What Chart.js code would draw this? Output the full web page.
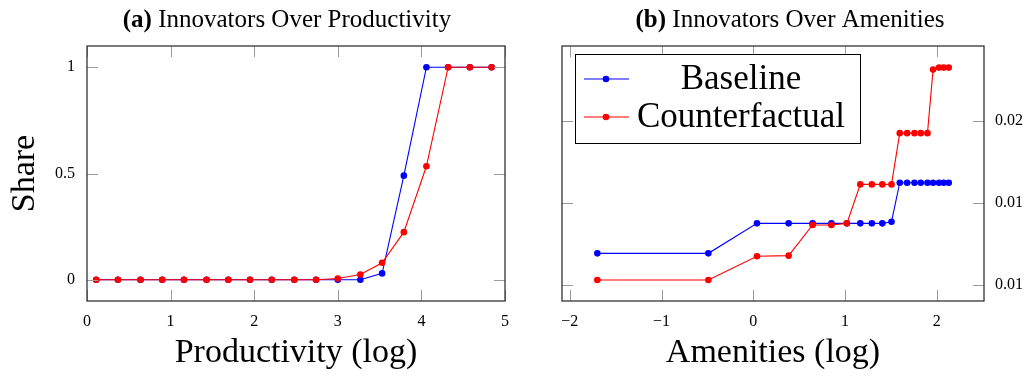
<!DOCTYPE html>
<html lang="en">
<head>
<meta charset="UTF-8">
<title>Innovators</title>
<script src="https://cdn.jsdelivr.net/npm/chart.js"></script>
<style>
  body { margin: 0; background: #fff; }
  #wrap { position: relative; width: 1025px; height: 383px; }
  canvas { position: absolute; top: 0; }
</style>
</head>
<body>
<div id="wrap">
  <canvas id="prod" width="520" height="383" style="left:0"></canvas>
  <canvas id="amen" width="505" height="383" style="left:520px"></canvas>
</div>

<script>
// ---- panel (a): share of innovators over productivity
const prodX = [0.11, 0.37, 0.64, 0.90, 1.16, 1.43, 1.69, 1.95, 2.21, 2.48,
               2.74, 3.00, 3.27, 3.53, 3.79, 4.06, 4.32, 4.58, 4.84];
const prodBaseline = [0, 0, 0, 0, 0, 0, 0, 0, 0, 0,
                      0, 0, 0, 0.03, 0.49, 1, 1, 1, 1];
const prodCounter = [0, 0, 0, 0, 0, 0, 0, 0, 0, 0,
                     0, 0.006, 0.025, 0.08, 0.224, 0.534, 1, 1, 1];
const prodXTicks = [0, 1, 2, 3, 4, 5];
const prodYTicks = [0, 0.5, 1];

// ---- panel (b): innovators over amenities
const amenX = [-1.70, -0.49, 0.04, 0.385, 0.646, 0.851, 1.02, 1.166, 1.292, 1.406,
               1.506, 1.596, 1.676, 1.756, 1.825, 1.898, 1.959, 2.024, 2.075, 2.13];
const amenBaseline = [0.00693, 0.00693, 0.00876, 0.00876, 0.00876, 0.00876, 0.00876, 0.00876, 0.00876, 0.00876,
                      0.00886, 0.01124, 0.01124, 0.01124, 0.01124, 0.01124, 0.01124, 0.01124, 0.01124, 0.01124];
const amenCounter = [0.0053, 0.0053, 0.00675, 0.00679, 0.00866, 0.00866, 0.00876, 0.01114, 0.01114, 0.01114,
                     0.01114, 0.01427, 0.01427, 0.01427, 0.01427, 0.01427, 0.01815, 0.01827, 0.01827, 0.01827];
const amenXTicks = [-2, -1, 0, 1, 2];
const amenYTicks = [0.005, 0.01, 0.015];
const amenYLabels = ['0.01', '0.01', '0.02'];

const SERIF = '"Liberation Serif", "Times New Roman", serif';
const TICK = 11;
const BLUE = '#0000ff', RED = '#ff0000';
const TITLE_PX = 25;

// box, inward tick marks, panel title and (optionally) boxed legend
const deco = {
  id: 'deco',
  afterDraw(chart, args, o) {
    const { ctx, chartArea: a } = chart;
    const xs = chart.scales.x, ys = chart.scales.y;
    ctx.save();
    ctx.strokeStyle = '#9a9a9a';
    ctx.lineWidth = 1;
    ctx.beginPath();
    xs.ticks.forEach(t => {
      const px = Math.round(xs.getPixelForValue(t.value)) + 0.5;
      ctx.moveTo(px, a.bottom); ctx.lineTo(px, a.bottom - TICK);
      ctx.moveTo(px, a.top); ctx.lineTo(px, a.top + TICK);
    });
    ys.ticks.forEach(t => {
      const py = Math.round(ys.getPixelForValue(t.value)) + 0.5;
      ctx.moveTo(a.left, py); ctx.lineTo(a.left + TICK, py);
      ctx.moveTo(a.right, py); ctx.lineTo(a.right - TICK, py);
    });
    ctx.stroke();
    ctx.strokeStyle = '#333';
    ctx.lineWidth = 1.3;
    ctx.strokeRect(a.left, a.top, a.right - a.left, a.bottom - a.top);

    // title: bold tag + plain text
    ctx.fillStyle = '#000';
    ctx.textBaseline = 'alphabetic';
    ctx.textAlign = 'left';
    ctx.font = 'bold ' + TITLE_PX + 'px ' + SERIF;
    const wb = ctx.measureText(o.tag).width;
    ctx.font = TITLE_PX + 'px ' + SERIF;
    const wt = ctx.measureText(' ' + o.title).width;
    let x0 = o.cx - (wb + wt) / 2;
    ctx.font = 'bold ' + TITLE_PX + 'px ' + SERIF;
    ctx.fillText(o.tag, x0, 27);
    ctx.font = TITLE_PX + 'px ' + SERIF;
    ctx.fillText(' ' + o.title, x0 + wb, 27);

    if (o.legend) {
      const lx = a.left + 13, ly = a.top + 8, lw = 285, lh = 89;
      ctx.fillStyle = '#fff';
      ctx.fillRect(lx, ly, lw, lh);
      ctx.strokeStyle = '#000';
      ctx.lineWidth = 1;
      ctx.strokeRect(lx + 0.5, ly + 0.5, lw, lh);
      chart.data.datasets.forEach((ds, i) => {
        const cy = ly + 25 + 38 * i;
        ctx.strokeStyle = ds.borderColor;
        ctx.lineWidth = 1.1;
        ctx.beginPath();
        ctx.moveTo(lx + 9, cy); ctx.lineTo(lx + 54, cy);
        ctx.stroke();
        ctx.fillStyle = ds.borderColor;
        ctx.beginPath();
        ctx.arc(lx + 31, cy, 3.3, 0, Math.PI * 2);
        ctx.fill();
        ctx.fillStyle = '#000';
        ctx.font = '35px ' + SERIF;
        ctx.textAlign = 'center';
        ctx.textBaseline = 'middle';
        ctx.fillText(ds.label, lx + 166, cy + 1);
      });
    }
    ctx.restore();
  }
};

function series(label, xs, ys, color, order) {
  return {
    label: label,
    data: xs.map((x, i) => ({ x: x, y: ys[i] })),
    borderColor: color,
    backgroundColor: color,
    borderWidth: 1.1,
    pointRadius: 3.3,
    pointBorderWidth: 0,
    pointHoverRadius: 3.3,
    tension: 0,
    order: order
  };
}

const tickFont = { family: SERIF, size: 16 };
const titleFont = { family: SERIF, size: 34 };
const fixTicks = arr => s => { s.ticks = arr.map(v => ({ value: v })); };

new Chart(document.getElementById('prod'), {
  type: 'line',
  data: {
    datasets: [
      series('Baseline', prodX, prodBaseline, BLUE, 1),
      series('Counterfactual', prodX, prodCounter, RED, 0)
    ]
  },
  options: {
    responsive: false,
    animation: false,
    events: [],
    layout: { padding: { left: 0, right: 11, top: 46, bottom: 0 } },
    plugins: {
      legend: { display: false },
      tooltip: { enabled: false },
      deco: { tag: '(a)', title: 'Innovators Over Productivity', cx: 287 }
    },
    scales: {
      x: {
        type: 'linear', min: 0, max: 5,
        afterBuildTicks: fixTicks(prodXTicks),
        grid: { display: false, drawTicks: false },
        border: { display: false },
        ticks: { font: tickFont, color: '#000', padding: 11, maxRotation: 0, autoSkip: false, callback: v => String(v) },
        title: { display: true, text: 'Productivity (log)', font: titleFont, color: '#000', padding: { top: 0, bottom: 10 } },
        afterFit: s => { s.height = 82; }
      },
      y: {
        type: 'linear', min: -0.1, max: 1.1,
        afterBuildTicks: fixTicks(prodYTicks),
        grid: { display: false, drawTicks: false },
        border: { display: false },
        ticks: { font: tickFont, color: '#000', padding: 12, autoSkip: false, callback: v => String(v) },
        title: { display: true, text: 'Share', font: titleFont, color: '#000', padding: { top: 5, bottom: 0 } },
        afterFit: s => { s.width = 87; }
      }
    }
  },
  plugins: [deco]
});

new Chart(document.getElementById('amen'), {
  type: 'line',
  data: {
    datasets: [
      series('Baseline', amenX, amenBaseline, BLUE, 1),
      series('Counterfactual', amenX, amenCounter, RED, 0)
    ]
  },
  options: {
    responsive: false,
    animation: false,
    events: [],
    layout: { padding: { left: 42, right: 0, top: 46, bottom: 0 } },
    plugins: {
      legend: { display: false },
      tooltip: { enabled: false },
      deco: { tag: '(b)', title: 'Innovators Over Amenities', cx: 270, legend: true }
    },
    scales: {
      x: {
        type: 'linear', min: -2.085, max: 2.514,
        afterBuildTicks: fixTicks(amenXTicks),
        grid: { display: false, drawTicks: false },
        border: { display: false },
        ticks: {
          font: tickFont, color: '#000', padding: 11, maxRotation: 0, autoSkip: false,
          callback: v => (v < 0 ? '\u2212' + Math.abs(v) : String(v))
        },
        title: { display: true, text: 'Amenities (log)', font: titleFont, color: '#000', padding: { top: 0, bottom: 10 } },
        afterFit: s => { s.height = 82; }
      },
      y: {
        type: 'linear', position: 'right', min: 0.00402, max: 0.01959,
        afterBuildTicks: fixTicks(amenYTicks),
        grid: { display: false, drawTicks: false },
        border: { display: false },
        ticks: { font: tickFont, color: '#000', padding: 11, autoSkip: false, callback: (v, i) => amenYLabels[i] },
        afterFit: s => { s.width = 41; }
      }
    }
  },
  plugins: [deco]
});
</script>
</body>
</html>
